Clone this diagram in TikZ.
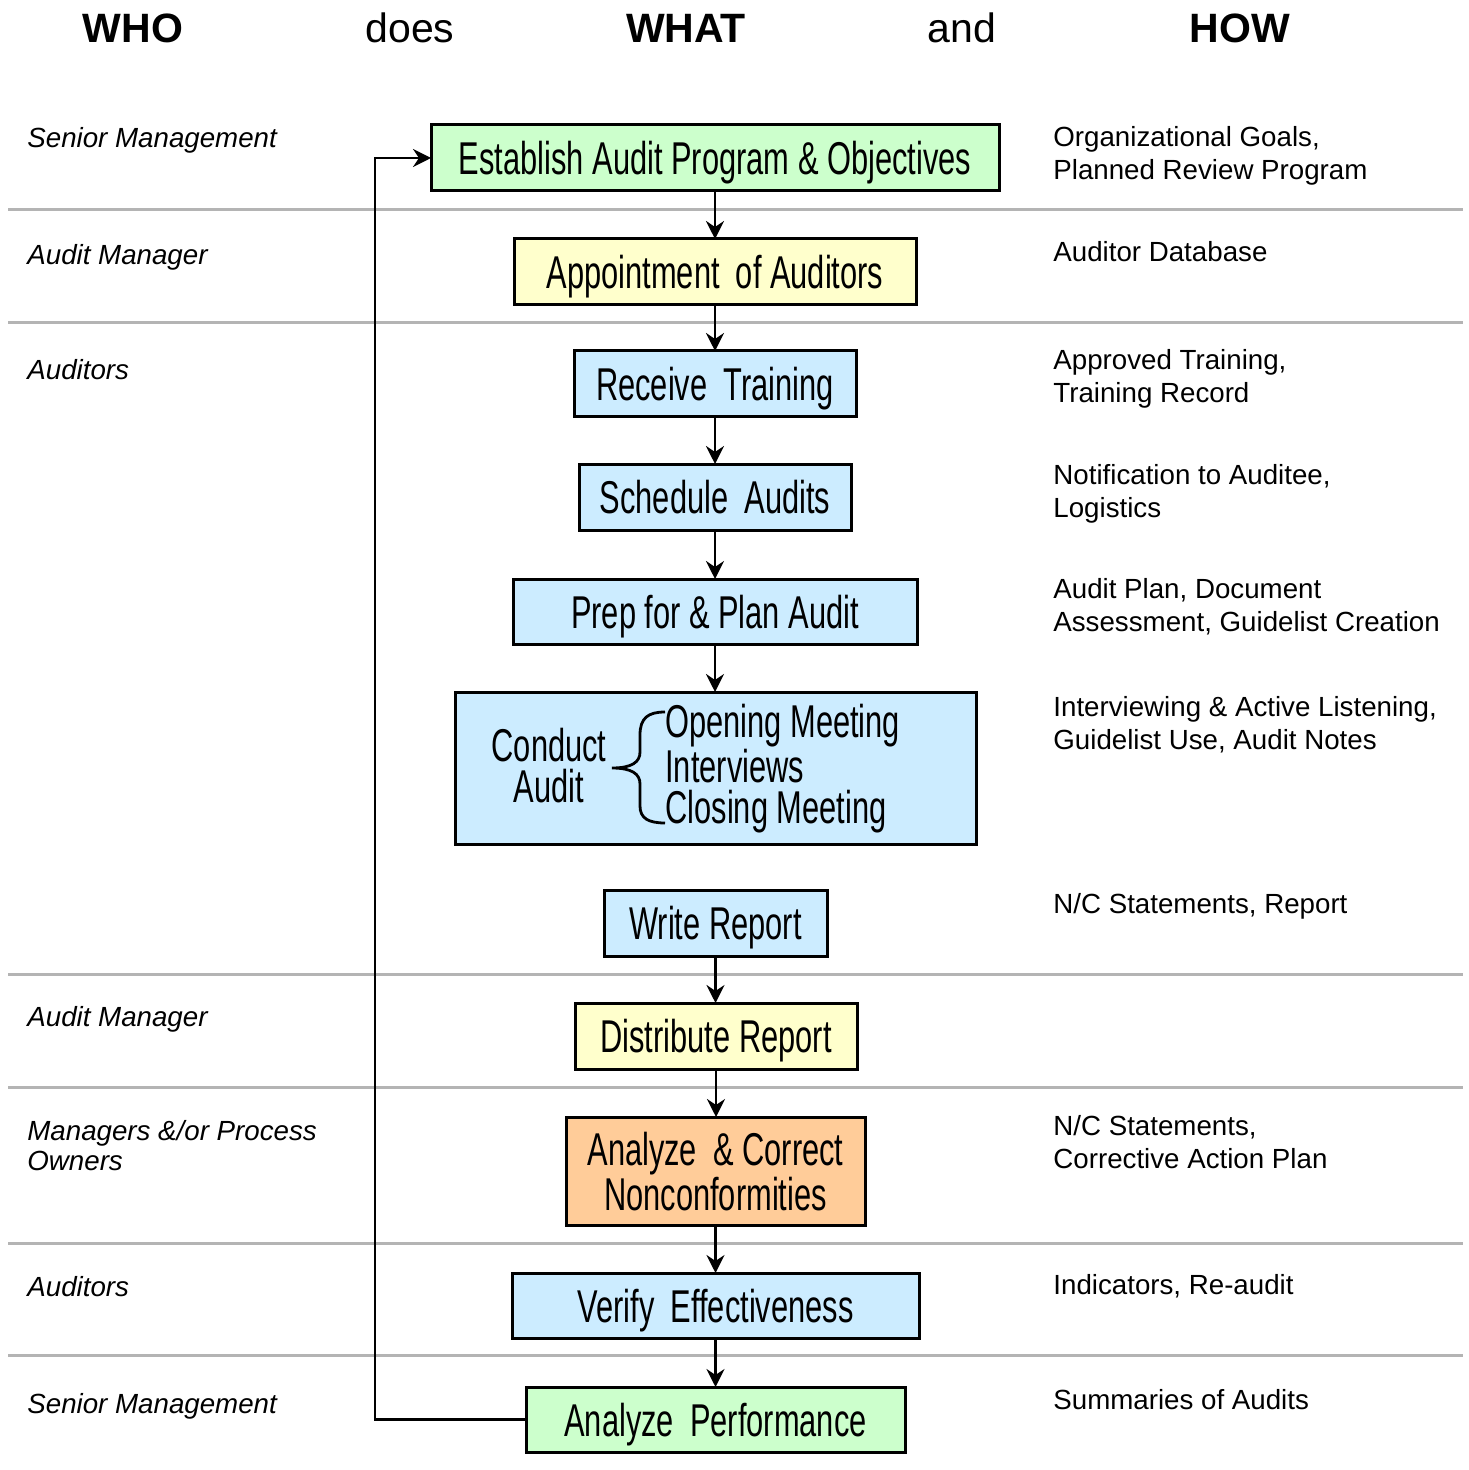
\documentclass[tikz,border=0pt]{standalone}
\usepackage{fontspec}
\setmainfont{Liberation Sans}
\newfontfamily\boxfont[FakeStretch=0.67]{Liberation Sans}
\usetikzlibrary{arrows.meta}

\definecolor{stepgreen}{HTML}{CCFFCC}
\definecolor{stepyellow}{HTML}{FFFFCC}
\definecolor{stepblue}{HTML}{CCECFF}
\definecolor{steporange}{HTML}{FFCC99}
\definecolor{rulegray}{HTML}{B4B4B4}

\tikzset{
  stepbox/.style={draw=black, line width=1.5pt, inner sep=0pt, outer sep=0pt,
    font=\boxfont\fontsize{23pt}{20.5pt}\selectfont, align=center, text depth=0pt},
  boxtext/.style={inner sep=0pt, font=\boxfont\fontsize{23pt}{20.5pt}\selectfont},
  arr/.style={draw=black, line width=1.4pt, -{Stealth[length=9pt,width=9pt,inset=3pt]}},
  lane/.style={draw=rulegray, line width=1.5pt},
  who/.style={inner sep=0pt, anchor=north west, align=left,
    font=\fontsize{13.85pt}{15pt}\selectfont\itshape},
  how/.style={inner sep=0pt, anchor=north west, align=left,
    font=\fontsize{13.85pt}{16.5pt}\selectfont},
  head/.style={inner sep=0pt, anchor=base, font=\fontsize{20.5pt}{24pt}\selectfont},
}

\begin{document}
\begin{tikzpicture}[x=0.5pt, y=-0.5pt]
\useasboundingbox (0,0) rectangle (1468,1470);

% column headings
\node[head, font=\fontsize{20.5pt}{24pt}\selectfont\bfseries] (hwho) at (133,43) {WHO};
\node[head] (hdoes) at (410,43) {does};
\node[head, font=\fontsize{20.5pt}{24pt}\selectfont\bfseries] (hwhat) at (686,43) {WHAT};
\node[head] (hand) at (962,43) {and};
\node[head, font=\fontsize{20.5pt}{24pt}\selectfont\bfseries] (hhow) at (1240,43) {HOW};

% lane separators
\foreach \yy in {210,323,974,1087,1243,1355}
  \draw[lane] (8,\yy) -- (1463,\yy);

% process steps
\node[stepbox, fill=stepgreen, minimum width=284pt, minimum height=33pt] (est) at (715,158) {Establish Audit Program \& Objectives};
\node[stepbox, fill=stepyellow, minimum width=201pt, minimum height=33pt] (app) at (715,272) {Appointment\, of Auditors};
\node[stepbox, fill=stepblue, minimum width=141pt, minimum height=33pt] (rec) at (715,384) {Receive\, Training};
\node[stepbox, fill=stepblue, minimum width=136pt, minimum height=33pt] (sch) at (715,497) {Schedule\, Audits};
\node[stepbox, fill=stepblue, minimum width=202pt, minimum height=32.5pt] (prep) at (715,611.5) {Prep for \& Plan Audit};
\node[stepbox, fill=stepblue, minimum width=260.5pt, minimum height=76pt] (cond) at (715.5,768) {};
\node[stepbox, fill=stepblue, minimum width=111.5pt, minimum height=33pt] (wri) at (715.5,923) {Write Report};
\node[stepbox, fill=stepyellow, minimum width=141pt, minimum height=33pt] (dis) at (716,1036) {Distribute Report};
\node[stepbox, fill=steporange, minimum width=149.5pt, minimum height=54pt] (ana) at (715.5,1171) {Analyze\, \& Correct\\Nonconformities};
\node[stepbox, fill=stepblue, minimum width=203.5pt, minimum height=32.5pt] (ver) at (715.5,1305.5) {Verify\, Effectiveness};
\node[stepbox, fill=stepgreen, minimum width=189.5pt, minimum height=32.5pt] (perf) at (715.5,1419.5) {Analyze\, Performance};

% contents of the audit step
\node[boxtext, align=center] (condlbl) at (549,766) {Conduct\\Audit};
\node[boxtext, align=left, anchor=west] (items) at (665,769) {Opening Meeting\\Interviews\\Closing Meeting};
\draw[line width=1.4pt] (665,712) .. controls (648,712) and (640,718) .. (640,735) -- (640,752)
  .. controls (640,762) and (632,768) .. (612,768)
  .. controls (632,768) and (640,774) .. (640,784) -- (640,806)
  .. controls (640,818) and (648,823) .. (665,823);

% flow
\draw[arr] (est.south) -- (est.south |- app.north);
\draw[arr] (app.south) -- (app.south |- rec.north);
\draw[arr] (rec.south) -- (rec.south |- sch.north);
\draw[arr] (sch.south) -- (sch.south |- prep.north);
\draw[arr] (prep.south) -- (prep.south |- cond.north);
\draw[arr] (wri.south) -- (wri.south |- dis.north);
\draw[arr] (dis.south) -- (dis.south |- ana.north);
\draw[arr] (ana.south) -- (ana.south |- ver.north);
\draw[arr] (ver.south) -- (ver.south |- perf.north);

% feedback loop
\coordinate (loop) at (375,1419.5);
\draw[arr] (perf.west) -- (loop) |- (est.west);

% who
\node[who] (w1) at (27,127) {Senior Management};
\node[who] (w2) at (27,244) {Audit Manager};
\node[who] (w3) at (27,359) {Auditors};
\node[who] (w4) at (27,1006) {Audit Manager};
\node[who] (w5) at (27,1120) {Managers \&/or Process\\Owners};
\node[who] (w6) at (27,1276) {Auditors};
\node[who] (w7) at (27,1393) {Senior Management};

% how
\node[how] (h1) at (1053,126) {Organizational Goals,\\Planned Review Program};
\node[how] (h2) at (1053,241) {Auditor Database};
\node[how] (h3) at (1053,349) {Approved Training,\\Training Record};
\node[how] (h4) at (1053,464) {Notification to Auditee,\\Logistics};
\node[how] (h5) at (1053,578) {Audit Plan, Document\\Assessment, Guidelist Creation};
\node[how] (h6) at (1053,696) {Interviewing \& Active Listening,\\Guidelist Use, Audit Notes};
\node[how] (h7) at (1053,893) {N/C Statements, Report};
\node[how] (h8) at (1053,1115) {N/C Statements,\\Corrective Action Plan};
\node[how] (h9) at (1053,1274) {Indicators, Re-audit};
\node[how] (h10) at (1053,1389) {Summaries of Audits};
\end{tikzpicture}
\end{document}
